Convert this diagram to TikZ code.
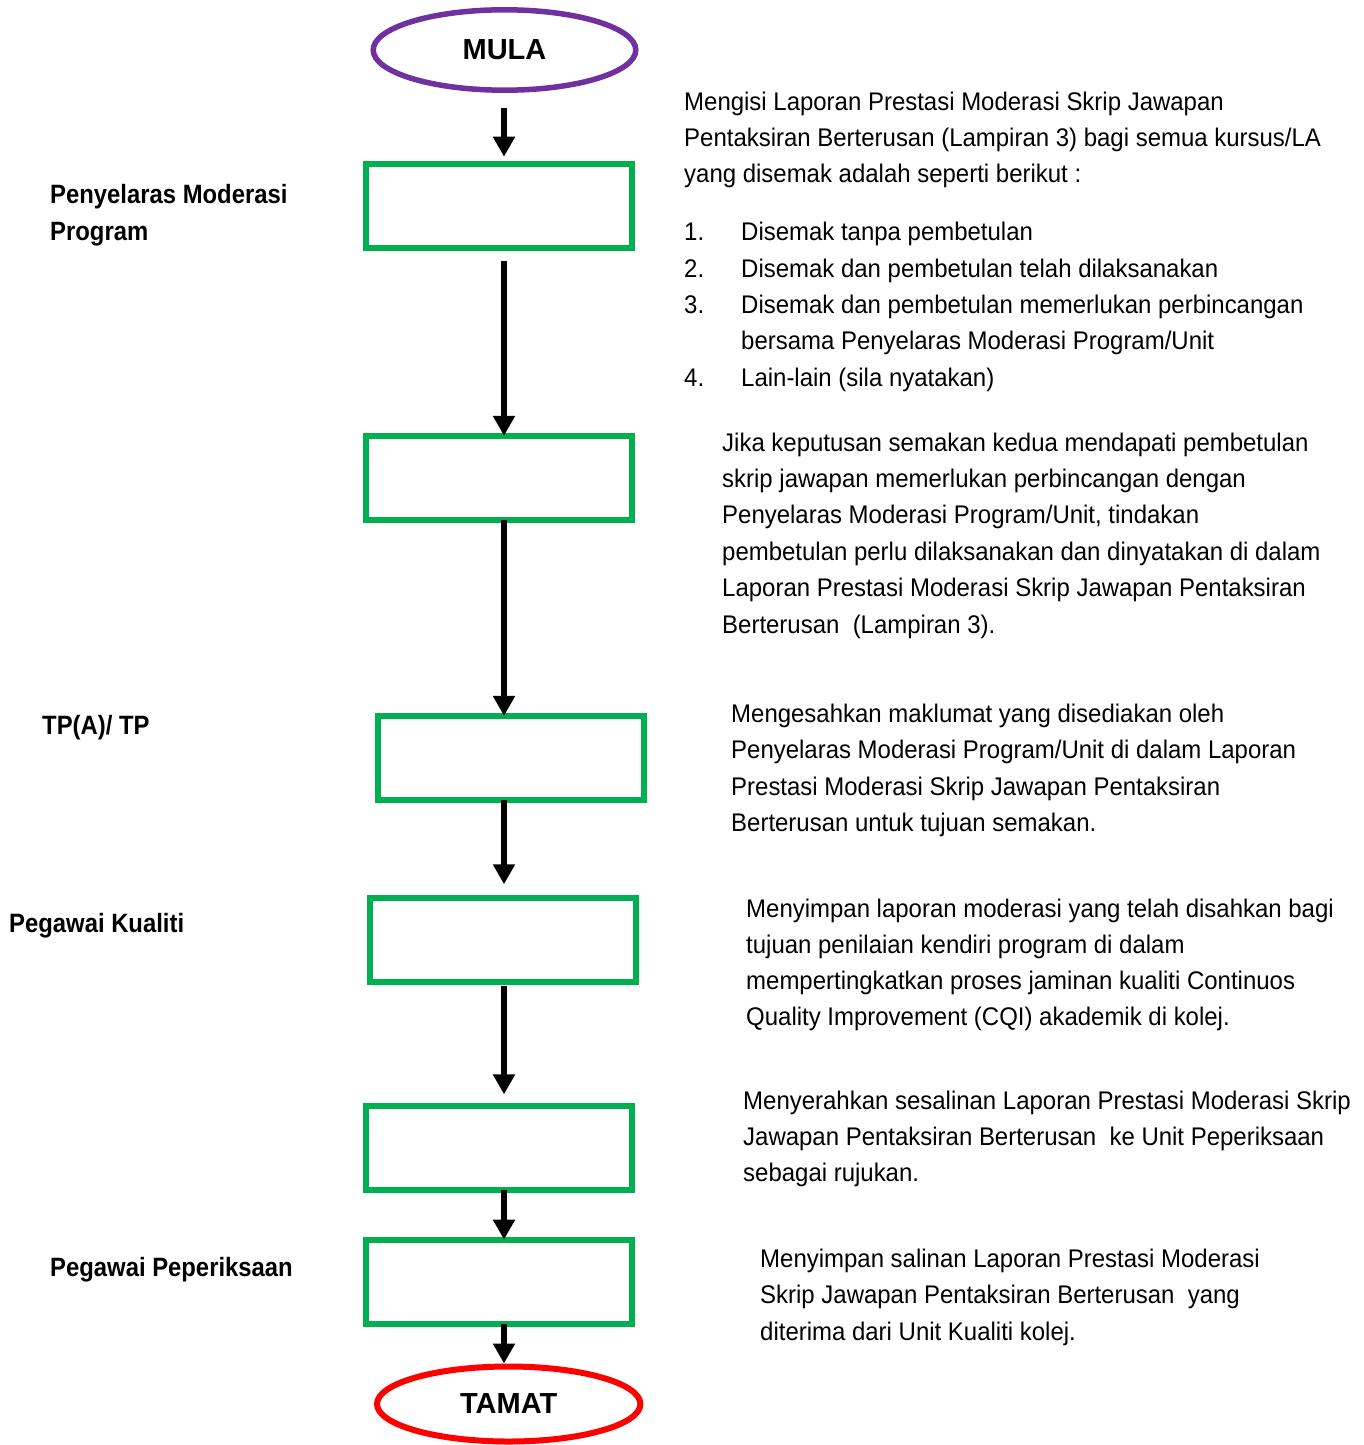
\documentclass[tikz,border=0pt]{standalone}
\usepackage{fontspec}
\setmainfont{Liberation Sans}
\newfontfamily\bodyfont{Liberation Sans}[FakeStretch=0.94]
\newfontfamily\labfont{Liberation Sans}[FakeStretch=0.9]
\usetikzlibrary{arrows.meta,shapes.geometric}
\definecolor{boxgreen}{HTML}{00B050}
\definecolor{startpurple}{HTML}{7030A0}
\definecolor{endred}{HTML}{FF0000}
\tikzset{
  flowbox/.style={rectangle, draw=boxgreen, line width=6pt, minimum width=266pt, minimum height=84pt, inner sep=0pt, outer sep=0pt},
  term/.style={ellipse, line width=5.5pt, inner sep=0pt, outer sep=0pt, font=\fontsize{29}{33}\selectfont\bfseries},
  arr/.style={line width=6.5pt, -{Triangle[length=20pt,width=21pt]}},
  body/.style={anchor=base west, inner sep=0pt, font=\bodyfont\fontsize{25.5}{30}\selectfont},
  lab/.style={anchor=base west, inner sep=0pt, font=\labfont\bfseries\fontsize{26.5}{30}\selectfont}
}
\begin{document}
\begin{tikzpicture}[x=1pt,y=-1pt]
\useasboundingbox (0,0) rectangle (1364,1445);
% terminals
\node[term, draw=startpurple, minimum width=262.6pt, minimum height=80.4pt] (mula) at (504.5,50) {MULA};
\node[term, draw=endred, line width=6pt, minimum width=263.4pt, minimum height=75pt] (tamat) at (508.7,1404) {TAMAT};
% boxes
\node[flowbox] (box1) at (499,206.2) {};
\node[flowbox] (box2) at (498.5,477.8) {};
\node[flowbox] (box3) at (510.7,757.9) {};
\node[flowbox] (box4) at (502.5,940) {};
\node[flowbox] (box5) at (498.8,1148.4) {};
\node[flowbox] (box6) at (498.8,1281.6) {};
% arrows
\coordinate (ax) at (504,0);
\draw[arr, shorten <=17.8pt, shorten >=7.5pt] (mula.south -| ax) -- (box1.north -| ax);
\draw[arr, shorten <=12.8pt] (box1.south -| ax) -- (box2.north -| ax);
\draw[arr] (box2.south -| ax) -- (box3.north -| ax);
\draw[arr, shorten >=13.7pt] (box3.south -| ax) -- (box4.north -| ax);
\draw[arr, shorten <=3.7pt, shorten >=12pt] (box4.south -| ax) -- (box5.north -| ax);
\draw[arr] (box5.south -| ax) -- (box6.north -| ax);
\draw[arr, shorten >=3pt] (box6.south -| ax) -- (tamat.north -| ax);
% left labels
\node[lab] (l1a) at (50,203) {Penyelaras Moderasi};
\node[lab] (l1b) at (50,240) {Program};
\node[lab] (l2) at (42,734) {TP(A)/ TP};
\node[lab] (l3) at (9,932) {Pegawai Kualiti};
\node[lab] (l4) at (50,1276) {Pegawai Peperiksaan};
% block 1
\node[body] (t1a) at (684,110) {Mengisi Laporan Prestasi Moderasi Skrip Jawapan};
\node[body] (t1b) at (684,146) {Pentaksiran Berterusan (Lampiran 3) bagi semua kursus/LA};
\node[body] (t1c) at (684,182) {yang disemak adalah seperti berikut :};
\node[body] (n1) at (684,240) {1.};
\node[body] (i1) at (741,240) {Disemak tanpa pembetulan};
\node[body] (n2) at (684,277) {2.};
\node[body] (i2) at (741,277) {Disemak dan pembetulan telah dilaksanakan};
\node[body] (n3) at (684,313) {3.};
\node[body] (i3a) at (741,313) {Disemak dan pembetulan memerlukan perbincangan};
\node[body] (i3b) at (741,349) {bersama Penyelaras Moderasi Program/Unit};
\node[body] (n4) at (684,386) {4.};
\node[body] (i4) at (741,386) {Lain-lain (sila nyatakan)};
% block 2
\node[body] (t2a) at (722,451) {Jika keputusan semakan kedua mendapati pembetulan};
\node[body] (t2b) at (722,487) {skrip jawapan memerlukan perbincangan dengan};
\node[body] (t2c) at (722,523) {Penyelaras Moderasi Program/Unit, tindakan};
\node[body] (t2d) at (722,560) {pembetulan perlu dilaksanakan dan dinyatakan di dalam};
\node[body] (t2e) at (722,596) {Laporan Prestasi Moderasi Skrip Jawapan Pentaksiran};
\node[body] (t2f) at (722,633) {Berterusan\ \ (Lampiran 3).};
% block 3
\node[body] (t3a) at (731,722) {Mengesahkan maklumat yang disediakan oleh};
\node[body] (t3b) at (731,758) {Penyelaras Moderasi Program/Unit di dalam Laporan};
\node[body] (t3c) at (731,795) {Prestasi Moderasi Skrip Jawapan Pentaksiran};
\node[body] (t3d) at (731,831) {Berterusan untuk tujuan semakan.};
% block 4
\node[body] (t4a) at (746,917) {Menyimpan laporan moderasi yang telah disahkan bagi};
\node[body] (t4b) at (746,953) {tujuan penilaian kendiri program di dalam};
\node[body] (t4c) at (746,989) {mempertingkatkan proses jaminan kualiti Continuos};
\node[body] (t4d) at (746,1025) {Quality Improvement (CQI) akademik di kolej.};
% block 5
\node[body] (t5a) at (743,1109) {Menyerahkan sesalinan Laporan Prestasi Moderasi Skrip};
\node[body] (t5b) at (743,1145) {Jawapan Pentaksiran Berterusan\ \ ke Unit Peperiksaan};
\node[body] (t5c) at (743,1181) {sebagai rujukan.};
% block 6
\node[body] (t6a) at (760,1267) {Menyimpan salinan Laporan Prestasi Moderasi};
\node[body] (t6b) at (760,1303) {Skrip Jawapan Pentaksiran Berterusan\ \ yang};
\node[body] (t6c) at (760,1340) {diterima dari Unit Kualiti kolej.};
\end{tikzpicture}
\end{document}
